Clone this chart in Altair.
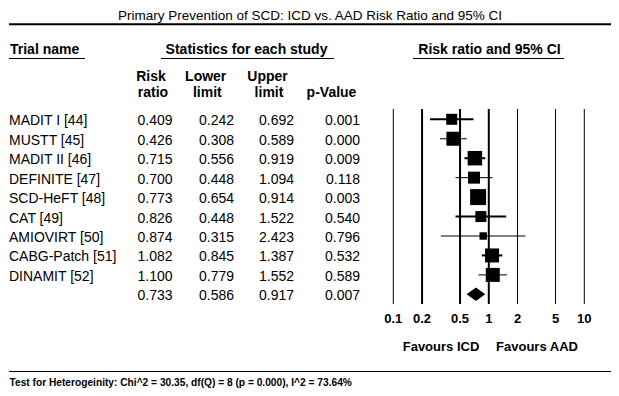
import altair as alt
import pandas as pd

# ---------------- data ----------------
trials = ["MADIT I [44]", "MUSTT [45]", "MADIT II [46]", "DEFINITE [47]", "SCD-HeFT [48]",
          "CAT [49]", "AMIOVIRT [50]", "CABG-Patch [51]", "DINAMIT [52]"]
risk_ratio = [0.409, 0.426, 0.715, 0.700, 0.773, 0.826, 0.874, 1.082, 1.100]
lower_limit = [0.242, 0.308, 0.556, 0.448, 0.654, 0.448, 0.315, 0.845, 0.779]
upper_limit = [0.692, 0.589, 0.919, 1.094, 0.914, 1.522, 2.423, 1.387, 1.552]
p_values = ["0.001", "0.000", "0.009", "0.118", "0.003", "0.540", "0.796", "0.532", "0.589"]
rel_weight = [8.1, 13.1, 14.0, 9.6, 17.1, 8.1, 3.7, 13.1, 13.1]  # % (square area)

summary_rr = 0.733
summary_lower = 0.586
summary_upper = 0.917
summary_p = "0.007"

tick_values = [0.1, 0.2, 0.5, 1, 2, 5, 10]
tick_labels = ["0.1", "0.2", "0.5", "1", "2", "5", "10"]

title_text = "Primary Prevention of SCD: ICD vs. AAD Risk Ratio and 95% CI"
footer_text = "Test for Heterogeinity: Chi^2 = 30.35, df(Q) = 8 (p = 0.000), I^2 = 73.64%"

# ---------------- styling / layout ----------------
FONT = "Liberation Sans"
W, H = 603, 380
THICK_CI_ROWS = [0, 2, 5, 7]
THICK_GRID = [0.2, 0.5, 1]
DIAMOND_HALF = 0.347  # in row units

x_scale = alt.Scale(type="log", domain=[0.1, 10], range=[385.3, 576.3], nice=False)
y_scale = alt.Scale(domain=[0, 9], range=[111.3, 286.35], nice=False, zero=False)

n = len(trials)
table_df = pd.DataFrame({
    "row": list(range(n + 1)),
    "name": trials + [""],
    "rr": [f"{v:.3f}" for v in risk_ratio + [summary_rr]],
    "lo": [f"{v:.3f}" for v in lower_limit + [summary_lower]],
    "up": [f"{v:.3f}" for v in upper_limit + [summary_upper]],
    "p": p_values + [summary_p],
})

study_df = pd.DataFrame({
    "row": list(range(n)),
    "rr": risk_ratio,
    "lo": lower_limit,
    "up": upper_limit,
    "w": rel_weight,
})

diamond_df = pd.DataFrame({
    "x": [summary_lower, summary_rr, summary_upper],
    "ytop": [n, n - DIAMOND_HALF, n],
    "ybot": [n, n + DIAMOND_HALF, n],
})

grid_df = pd.DataFrame({"v": tick_values, "label": tick_labels})


def label(text, x, y, size=14, bold=False, align="left"):
    return alt.Chart(pd.DataFrame({"t": [text]})).mark_text(
        font=FONT, fontSize=size, fontWeight="bold" if bold else "normal",
        align=align, baseline="alphabetic", color="black"
    ).encode(text="t:N", x=alt.value(x), y=alt.value(y))


def hline(x1, x2, y, width=1):
    return alt.Chart(pd.DataFrame({"a": [0]})).mark_rule(
        color="black", strokeWidth=width
    ).encode(x=alt.value(x1), x2=alt.value(x2), y=alt.value(y))


layers = []

# title and rules
layers.append(label(title_text, 302, 12.4, size=13.5, align="center"))
layers.append(hline(1, 603, 16.2, 2))
layers.append(hline(1, 603, 363.5, 1))
layers.append(label(footer_text, 1.5, 377.5, size=10.2, bold=True))

# section headers
layers.append(label("Trial name", 2, 46, bold=True))
layers.append(label("Statistics for each study", 238.5, 46, bold=True, align="center"))
layers.append(label("Risk ratio and 95% CI", 481.5, 46, bold=True, align="center"))
layers.append(hline(1, 77, 50.5))
layers.append(hline(153, 326, 50.5))
layers.append(hline(405, 556, 50.5))

# column headers
layers.append(label("Risk", 143, 73, bold=True, align="center"))
layers.append(label("ratio", 145, 88.7, bold=True, align="center"))
layers.append(label("Lower", 197.7, 73, bold=True, align="center"))
layers.append(label("limit", 199.3, 88.7, bold=True, align="center"))
layers.append(label("Upper", 259.5, 73, bold=True, align="center"))
layers.append(label("limit", 261, 88.7, bold=True, align="center"))
layers.append(label("p-Value", 323.5, 88.7, bold=True, align="center"))

# table body
tbase = alt.Chart(table_df)
for field, xpos, align in [("name", 1, "left"), ("rr", 164.5, "right"), ("lo", 226, "right"),
                           ("up", 286, "right"), ("p", 352, "right")]:
    layers.append(
        tbase.mark_text(font=FONT, fontSize=14, align=align, baseline="alphabetic",
                        dy=6, color="black")
        .encode(x=alt.value(xpos), y=alt.Y("row:Q", scale=y_scale, axis=None),
                text=f"{field}:N")
    )

# grid lines
gbase = alt.Chart(grid_df)
layers.append(
    gbase.mark_rule(color="black")
    .encode(
        x=alt.X("v:Q", scale=x_scale, axis=None),
        y=alt.value(101), y2=alt.value(296),
        strokeWidth=alt.when(alt.FieldOneOfPredicate(field="v", oneOf=THICK_GRID))
        .then(alt.value(2)).otherwise(alt.value(1)),
    )
)
layers.append(
    gbase.mark_text(font=FONT, fontSize=13, fontWeight="bold", baseline="alphabetic",
                    align="center", color="black")
    .encode(x=alt.X("v:Q", scale=x_scale, axis=None), y=alt.value(314.7), text="label:N")
)
layers.append(label("Favours ICD", 433, 342.7, size=13, bold=True, align="center"))
layers.append(label("Favours AAD", 529, 342.7, size=13, bold=True, align="center"))

# confidence intervals
sbase = alt.Chart(study_df)
layers.append(
    sbase.mark_rule(color="black")
    .encode(
        x=alt.X("lo:Q", scale=x_scale, axis=None), x2="up:Q",
        y=alt.Y("row:Q", scale=y_scale, axis=None),
        strokeWidth=alt.when(alt.FieldOneOfPredicate(field="row", oneOf=THICK_CI_ROWS))
        .then(alt.value(2)).otherwise(alt.value(1)),
    )
)
layers.append(
    sbase.mark_square(filled=True, color="black", opacity=1, strokeWidth=0)
    .encode(
        x=alt.X("rr:Q", scale=x_scale, axis=None),
        y=alt.Y("row:Q", scale=y_scale, axis=None),
        size=alt.Size("w:Q", scale=alt.Scale(domain=[0, 100], range=[0, 1496]), legend=None),
    )
)
layers.append(
    alt.Chart(diamond_df).mark_area(color="black", orient="vertical", opacity=1)
    .encode(
        x=alt.X("x:Q", scale=x_scale, axis=None),
        y=alt.Y("ytop:Q", scale=y_scale, axis=None),
        y2="ybot:Q",
    )
)

chart = alt.layer(*layers).properties(
    width=W, height=H, padding=0, autosize=alt.AutoSizeParams(type="none")
).configure_view(stroke=None)

chart.save("out.html", embed_options={"renderer": "svg", "actions": False})
